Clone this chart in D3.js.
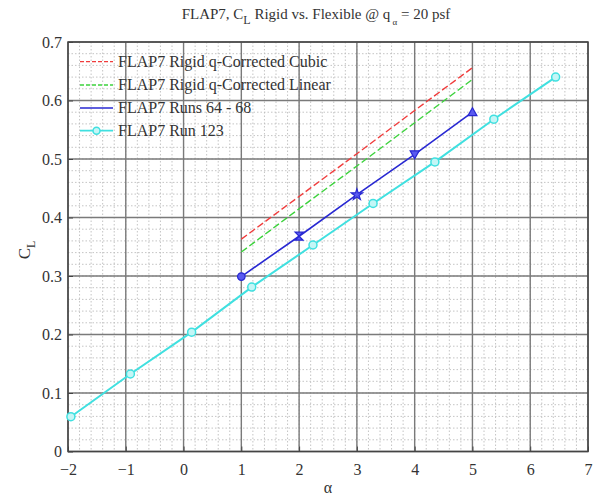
<!DOCTYPE html>
<html><head><meta charset="utf-8">
<script src="https://cdn.jsdelivr.net/npm/d3@7"></script>
<style>body{margin:0;background:#fff;} svg text{font-family:"Liberation Serif","Times New Roman",serif !important;fill:#333;}</style>
</head><body>
<svg id="c" width="602" height="500"></svg>
<script>
const xTicks = [-2,-1,0,1,2,3,4,5,6,7];
const yTicks = [0,0.1,0.2,0.3,0.4,0.5,0.6,0.7];
const cubicX = [1,2,3,4,5];
const cubicY = [0.363,0.436,0.509,0.583,0.656];
const linearX = [1,2,3,4,5];
const linearY = [0.341,0.415,0.488,0.562,0.636];
const runsX = [1,2,3,4,5];
const runsY = [0.299,0.368,0.439,0.508,0.580];
const runsMarkers = ["circle","bowtie","star","triDown","triUp"];
const run123X = [-1.95,-0.92,0.14,1.18,2.24,3.28,4.35,5.37,6.44];
const run123Y = [0.0595,0.1325,0.204,0.281,0.353,0.424,0.495,0.568,0.640];
const legendLabels = ["FLAP7 Rigid q-Corrected Cubic","FLAP7 Rigid q-Corrected Linear","FLAP7 Runs 64 - 68","FLAP7 Run 123"];

const svg = d3.select("#c");
const L=68,R=588,T=42,B=451.5;
const x = d3.scaleLinear().domain([-2,7]).range([L,R]);
const y = d3.scaleLinear().domain([0,0.7]).range([B,T]);

// minor grid
const g = svg.append("g");
g.selectAll(".mx").data(d3.range(-2,7.001,0.2)).enter().append("line")
 .attr("x1",d=>x(d)).attr("x2",d=>x(d)).attr("y1",T).attr("y2",B)
 .attr("stroke","#bdbdbd").attr("stroke-width",0.9).attr("stroke-dasharray","1.5,2");
g.selectAll(".my").data(d3.range(0,0.7001,0.02)).enter().append("line")
 .attr("y1",d=>y(d)).attr("y2",d=>y(d)).attr("x1",L).attr("x2",R)
 .attr("stroke","#bdbdbd").attr("stroke-width",0.9).attr("stroke-dasharray","1.5,2");
// major grid
g.selectAll(".Mx").data(xTicks).enter().append("line")
 .attr("x1",d=>x(d)).attr("x2",d=>x(d)).attr("y1",T).attr("y2",B)
 .attr("stroke","#7a7a7a").attr("stroke-width",1.4);
g.selectAll(".My").data(yTicks).enter().append("line")
 .attr("y1",d=>y(d)).attr("y2",d=>y(d)).attr("x1",L).attr("x2",R)
 .attr("stroke","#7a7a7a").attr("stroke-width",1.4);

// axes
const xa = svg.append("g").attr("transform",`translate(0,${B})`)
 .call(d3.axisBottom(x).tickValues(xTicks).tickSize(-5).tickPadding(12).tickFormat(d3.format("d")));
const ya = svg.append("g").attr("transform",`translate(${L},0)`)
 .call(d3.axisLeft(y).tickValues(yTicks).tickSize(-5).tickPadding(6).tickFormat(d=>d===0?"0":d3.format(".1f")(d)));
[xa,ya].forEach(a=>{a.attr("font-family",null).attr("font-size",null);a.select(".domain").remove();a.selectAll("line").attr("stroke","#444");
 a.selectAll("text").style("font-size","16px").attr("fill","#333");});
svg.append("rect").attr("x",L).attr("y",T).attr("width",R-L).attr("height",B-T)
 .attr("fill","none").attr("stroke","#444").attr("stroke-width",1.5);

const line = d3.line().x(d=>x(d[0])).y(d=>y(d[1]));
const zip=(a,b)=>a.map((v,i)=>[v,b[i]]);
svg.append("path").datum(zip(cubicX,cubicY)).attr("d",line).attr("fill","none")
 .attr("stroke","#f03c3c").attr("stroke-width",1.4).attr("stroke-dasharray","7,3");
svg.append("path").datum(zip(linearX,linearY)).attr("d",line).attr("fill","none")
 .attr("stroke","#3cd23c").attr("stroke-width",1.4).attr("stroke-dasharray","7,3");
svg.append("path").datum(zip(runsX,runsY)).attr("d",line).attr("fill","none")
 .attr("stroke","#2828d2").attr("stroke-width",1.6);
svg.append("path").datum(zip(run123X,run123Y)).attr("d",line).attr("fill","none")
 .attr("stroke","#40e0e0").attr("stroke-width",2);

// run 123 markers
svg.selectAll(".c123").data(zip(run123X,run123Y)).enter().append("circle")
 .attr("cx",d=>x(d[0])).attr("cy",d=>y(d[1])).attr("r",4)
 .attr("fill","#c4f6f6").attr("stroke","#40e0e0").attr("stroke-width",1.5);

// runs markers
const mk = svg.selectAll(".rm").data(zip(runsX,runsY).map((d,i)=>[d[0],d[1],runsMarkers[i]])).enter().append("path")
 .attr("transform",d=>`translate(${x(d[0])},${y(d[1])})`)
 .attr("d",d=>{
   const t=d[2];
   if(t==="circle") return d3.symbol(d3.symbolCircle,45)();
   if(t==="star") return d3.symbol(d3.symbolStar,40)();
   if(t==="bowtie") return "M-4,-4L4,-4L-4,4L4,4Z";
   if(t==="triDown") return "M-4.5,-3.5L4.5,-3.5L0,4.5Z";
   return "M-4.5,3.5L4.5,3.5L0,-4.5Z";
 })
 .attr("fill","#5a5af0").attr("stroke","#2828d2").attr("stroke-width",1.2);

// legend
const leg = svg.append("g");
const ly=[61.7,85,108,130.7];
const styles=[{c:"#f03c3c",d:"4,2",w:1.3},{c:"#3cd23c",d:"4,2",w:1.3},{c:"#2828d2",d:null,w:1.5},{c:"#40e0e0",d:null,w:1.8}];
legendLabels.forEach((t,i)=>{
  const l=leg.append("line").attr("x1",80).attr("x2",113).attr("y1",ly[i]).attr("y2",ly[i])
   .attr("stroke",styles[i].c).attr("stroke-width",styles[i].w);
  if(styles[i].d) l.attr("stroke-dasharray",styles[i].d);
  if(i===3) leg.append("circle").attr("cx",96.5).attr("cy",ly[i]).attr("r",3.5)
   .attr("fill","#c4f6f6").attr("stroke","#40e0e0").attr("stroke-width",1.5);
  leg.append("text").attr("x",118).attr("y",ly[i]+5).text(t).style("font-size","16px");
});

// title
const tt = svg.append("text").attr("x",316).attr("y",19).attr("text-anchor","middle").style("font-size","15px");
tt.append("tspan").text("FLAP7, C");
tt.append("tspan").text("L").attr("dy",5).style("font-size","12px");
tt.append("tspan").text(" Rigid vs. Flexible @ q").attr("dy",-5);
tt.append("tspan").text(" α").attr("dy",6).style("font-size","9px");
tt.append("tspan").text(" = 20 psf").attr("dy",-6);

// axis labels
svg.append("text").attr("x",328).attr("y",493).attr("text-anchor","middle").style("font-size","16px").text("α");
const yl = svg.append("text").attr("transform","translate(30,250) rotate(-90)").attr("text-anchor","middle").style("font-size","17px");
yl.append("tspan").text("C");
yl.append("tspan").text("L").attr("dy",5).style("font-size","12px");
</script>
</body></html>
